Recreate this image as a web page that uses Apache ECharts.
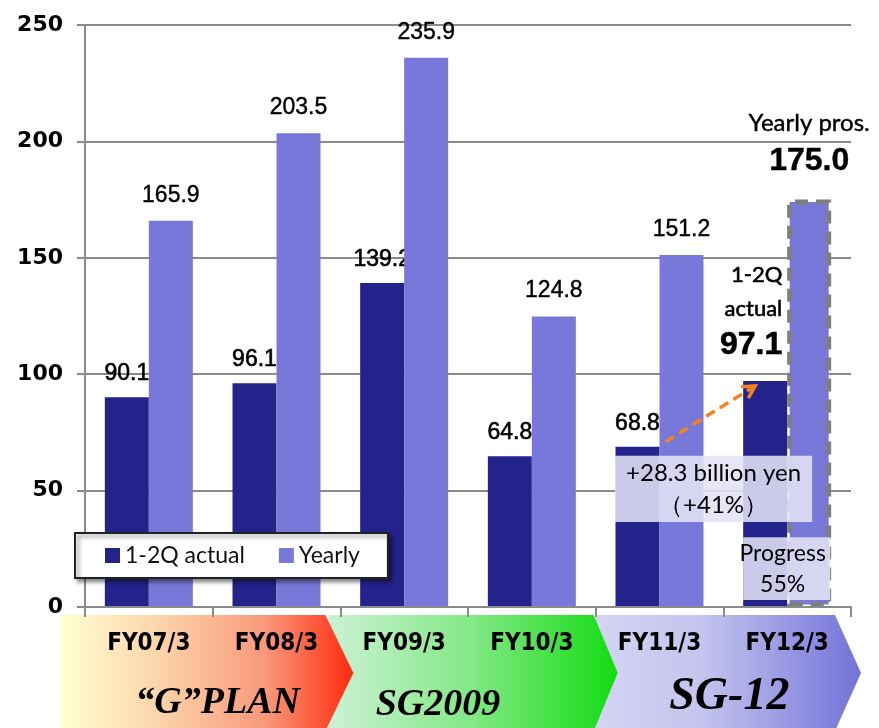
<!DOCTYPE html>
<html><head><meta charset="utf-8">
<script src="https://cdn.jsdelivr.net/npm/echarts@6/dist/echarts.min.js"></script>
<style>html,body{margin:0;padding:0;background:#fff}#c{width:879px;height:728px}</style>
</head><body><div id="c"></div>
<script>
const categories = ['FY07/3','FY08/3','FY09/3','FY10/3','FY11/3','FY12/3'];
const actualH1 = [90.1, 96.1, 139.2, 64.8, 68.8, 97.1];
const yearly = [165.9, 203.5, 235.9, 124.8, 151.2, 175.0];
const yMin = 0, yMax = 250, yStep = 50;
const seriesNames = ['1-2Q actual', 'Yearly'];
const plans = [
  {name: '“G”PLAN', size: 38},
  {name: 'SG2009', size: 38},
  {name: 'SG-12', size: 46}
];
const increaseText = '+28.3 billion yen\n（+41%）';
const progressText = 'Progress\n55%';

const DARK = '#23238B', LIGHT = '#7878DA', GRID = '#8a8a8a';
const chart = echarts.init(document.getElementById('c'), null, {renderer: 'canvas'});

const last = categories.length - 1;
const darkData = actualH1.map((v, i) => i === last ? {
  value: v,
  label: {
    show: true, position: 'top', distance: 17, offset: [-14, 0],
    formatter: '{a|1-2Q}\n{a|actual}\n{b|' + v.toFixed(1) + '}',
    rich: {
      a: {fontFamily: 'Lato', fontSize: 22, lineHeight: 34, color: '#000', align: 'right'},
      b: {fontFamily: 'Liberation Sans', fontWeight: 'bold', fontSize: 32, lineHeight: 38, color: '#000', align: 'right'}
    }
  }
} : v);
const lightData = yearly.map((v, i) => i === last ? {
  value: v,
  itemStyle: {borderColor: '#7f7f7f', borderWidth: 5, borderType: [13, 8]},
  label: {
    show: true, position: 'top', distance: 20,
    formatter: '{a|Yearly pros.}\n{b|' + v.toFixed(1) + '}',
    rich: {
      a: {fontFamily: 'Lato', fontSize: 24, lineHeight: 40, color: '#000', align: 'center'},
      b: {fontFamily: 'Liberation Sans', fontWeight: 'bold', fontSize: 32, lineHeight: 36, color: '#000', align: 'center'}
    }
  }
} : v);

const option = {
  backgroundColor: '#fff',
  animation: false,
  grid: {left: 85, right: 28, top: 25, bottom: 121, containLabel: false},
  legend: {
    left: 75, top: 533,
    data: seriesNames,
    icon: 'rect', itemWidth: 15, itemHeight: 15, itemGap: 34,
    padding: [11, 28, 11, 30],
    backgroundColor: '#fff', borderColor: '#222', borderWidth: 2,
    shadowColor: 'rgba(0,0,0,0.45)', shadowBlur: 4, shadowOffsetX: 3, shadowOffsetY: 3,
    textStyle: {fontFamily: 'Lato', fontSize: 23, color: '#111'},
    z: 20
  },
  xAxis: {
    type: 'category', data: categories,
    axisLine: {lineStyle: {color: GRID, width: 2}},
    axisTick: {show: true, length: 10, lineStyle: {color: GRID, width: 2}},
    axisLabel: {fontFamily: 'DejaVu Sans Condensed', fontWeight: 'bold', fontSize: 24, color: '#000', margin: 25},
    z: 5
  },
  yAxis: {
    type: 'value', min: yMin, max: yMax, interval: yStep,
    axisLine: {show: true, lineStyle: {color: GRID, width: 2}},
    axisTick: {show: true, length: 8, lineStyle: {color: GRID, width: 2}},
    axisLabel: {fontFamily: 'DejaVu Sans', fontWeight: 'bold', fontSize: 22, color: '#000', margin: 22},
    splitLine: {lineStyle: {color: GRID, width: 2}}
  },
  series: [
    {
      name: seriesNames[0], type: 'bar', data: darkData, barWidth: 44, barGap: '0%',
      itemStyle: {color: DARK}, z: 2,
      label: {show: true, position: 'top', distance: 12, fontFamily: 'Liberation Sans', fontSize: 23, color: '#000',
        textBorderColor: '#000', textBorderWidth: 0.6, formatter: p => p.value.toFixed(1)}
    },
    {
      name: seriesNames[1], type: 'bar', data: lightData, barWidth: 44, barGap: '0%',
      itemStyle: {color: LIGHT}, z: 3,
      label: {show: true, position: 'top', distance: 14, fontFamily: 'Liberation Sans', fontSize: 23, color: '#000',
        textBorderColor: '#000', textBorderWidth: 0.4, formatter: p => p.value.toFixed(1)}
    }
  ]
};
chart.setOption(option);

// Annotations positioned through the chart's own scales
const px = (ci, v) => chart.convertToPixel({xAxisIndex: 0, yAxisIndex: 0}, [ci, v]);
const c0 = px(0, 0), c1 = px(1, 0);
const half = (c1[0] - c0[0]) / 2;
const y0 = c0[1];
const bnd = i => c0[0] - half + i * 2 * half;
const chevTop = y0 + 8, chevMid = chevTop + 58, chevBot = chevTop + 116;
const chev = (x0, x1, tip) => [[x0, chevTop], [x1, chevTop], [tip, chevMid], [x1, chevBot], [x0, chevBot]];
const grad = stops => ({type: 'linear', x: 0, y: 0, x2: 1, y2: 0, colorStops: stops});

const chevrons = [
  {pts: chev(60, bnd(2) - 15, bnd(2) + 13), fill: grad([{offset: 0, color: '#FFFFD2'}, {offset: 0.35, color: '#FCD2A8'}, {offset: 0.7, color: '#F9987A'}, {offset: 1, color: '#FF2A0E'}])},
  {pts: chev(bnd(2) - 12, bnd(4) - 2, bnd(4) + 22), fill: grad([{offset: 0, color: '#CCF2D4'}, {offset: 0.5, color: '#82E884'}, {offset: 1, color: '#12DC12'}])},
  {pts: chev(bnd(4), bnd(6) - 16, bnd(6) + 10), fill: grad([{offset: 0, color: '#D4D4F4'}, {offset: 0.4, color: '#C4C4EE'}, {offset: 1, color: '#7272DA'}])}
];
const planCenters = [(bnd(0) + bnd(2)) / 2 + 5, (bnd(2) + bnd(4)) / 2 - 30, (bnd(4) + bnd(6)) / 2 + 6];
const planY = [703, 705, 697];

const s11 = px(4, 71), e12 = px(5, 95);
const startPt = [s11[0] + 6, s11[1]];
const endPt = [e12[0] - 32, e12[1]];
const ang = Math.atan2(endPt[1] - startPt[1], endPt[0] - startPt[0]);
const ah = 14, aw = 0.5;
const headA = [endPt[0] - ah * Math.cos(ang - aw), endPt[1] - ah * Math.sin(ang - aw)];
const headB = [endPt[0] - ah * Math.cos(ang + aw), endPt[1] - ah * Math.sin(ang + aw)];

const b1tl = px(4, 65), b1br = px(5, 36.5);
const b1 = {x: b1tl[0] - 44.5, y: b1tl[1], w: (b1br[0] + 25) - (b1tl[0] - 44.5), h: b1br[1] - b1tl[1]};
const b2tl = px(5, 30), b2br = px(5, 3);
const b2 = {x: b2tl[0] - 44, y: b2tl[1], w: 87, h: b2br[1] - b2tl[1]};

const graphics = [];
[2, 1, 0].forEach(i => graphics.push({type: 'polygon', shape: {points: chevrons[i].pts}, style: {fill: chevrons[i].fill}, z: -1, silent: true}));
plans.forEach((p, i) => graphics.push({type: 'text', x: planCenters[i], y: planY[i], z: 10,
  style: {text: p.name, fill: '#000', font: 'italic bold ' + p.size + 'px "Liberation Serif"', textAlign: 'center', textVerticalAlign: 'middle'}}));
graphics.push({type: 'rect', shape: {x: b1.x, y: b1.y, width: b1.w, height: b1.h}, style: {fill: 'rgba(226,226,246,0.88)'}, z: 50});
graphics.push({type: 'text', x: b1.x + b1.w / 2, y: b1.y + b1.h / 2, z: 51,
  style: {text: increaseText, fill: '#000', font: '24px Lato', textAlign: 'center', textVerticalAlign: 'middle', lineHeight: 32}});
graphics.push({type: 'rect', shape: {x: b2.x, y: b2.y, width: b2.w, height: b2.h}, style: {fill: 'rgba(226,226,246,0.88)'}, z: 50});
graphics.push({type: 'text', x: b2.x + b2.w / 2 - 4, y: b2.y + b2.h / 2, z: 51,
  style: {text: progressText, fill: '#000', font: '23px Lato', textAlign: 'center', textVerticalAlign: 'middle', lineHeight: 31}});
graphics.push({type: 'line', shape: {x1: startPt[0], y1: startPt[1], x2: endPt[0], y2: endPt[1]}, style: {stroke: '#F58220', lineWidth: 3.5, lineDash: [10, 6]}, z: 52});
graphics.push({type: 'polyline', shape: {points: [headA, endPt, headB]}, style: {stroke: '#F58220', lineWidth: 3.5, fill: null}, z: 52});

chart.setOption({graphic: {elements: graphics}});
</script></body></html>
